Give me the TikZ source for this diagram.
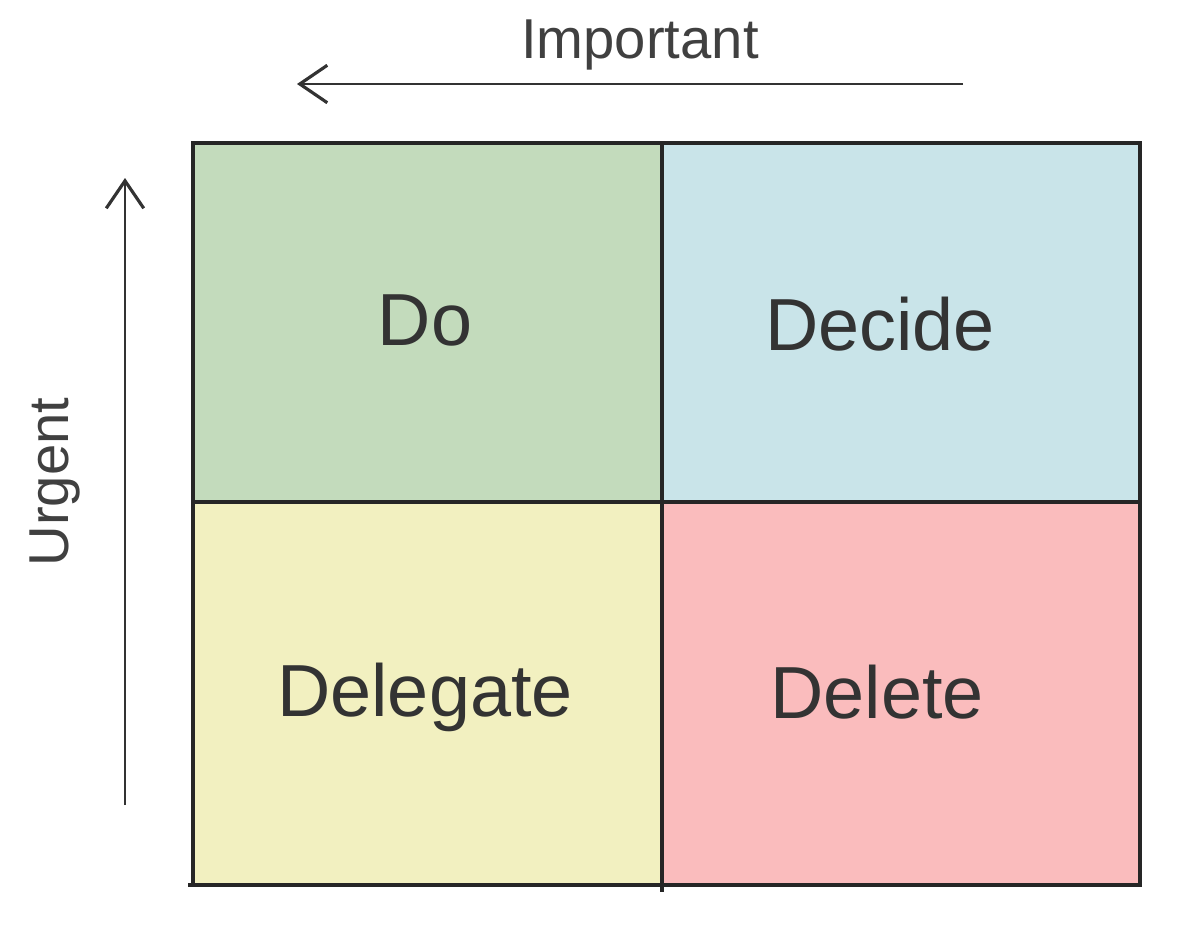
\documentclass[tikz,border=0pt]{standalone}
\usepackage{fontspec}
\setmainfont{Liberation Sans}
\usetikzlibrary{arrows.meta}
\definecolor{doGreen}{HTML}{C3DBBC}
\definecolor{decideBlue}{HTML}{C9E4E9}
\definecolor{delegateYellow}{HTML}{F2F0C0}
\definecolor{deletePink}{HTML}{FABCBD}
\tikzset{
	cell/.style={anchor=base, text=black!80, font=\fontsize{42}{50}\selectfont},
	axislbl/.style={text=black!75, font=\fontsize{32}{38}\selectfont},
	axisarrow/.style={draw=black!80, line width=1.1pt, -{Straight Barb[length=5.5mm, width=7.5mm, line width=1.8pt]}},
	gridline/.style={draw=black!85, line width=2.6pt}
}
\begin{document}
\begin{tikzpicture}[x=0.02cm, y=-0.02cm]
	\useasboundingbox (0,0) rectangle (1200,934);
	% quadrants
	\fill[doGreen] (193,143) rectangle (662,502);
	\fill[decideBlue] (662,143) rectangle (1140,502);
	\fill[delegateYellow] (193,502) rectangle (662,885);
	\fill[deletePink] (662,502) rectangle (1140,885);
	\draw[gridline] (193,143) rectangle (1140,885);
	\draw[gridline] (662,143) -- (662,892);
	\draw[gridline] (193,502) -- (1140,502);
	\draw[gridline] (188,885) -- (193,885);

	\node (do) [cell] at (425, 345) {Do};
	\node (decide) [cell] at (880, 350) {Decide};
	\node (delegate) [cell] at (425, 716) {Delegate};
	\node (delete) [cell] at (877, 718) {Delete};

	\node (important) [axislbl] at (640, 45) {Important};
	\node (urgent) [axislbl, rotate=90] at (55, 482) {Urgent};
	\coordinate (impfrom) at (963, 84);
	\coordinate (impto) at (297, 84);
	\coordinate (urgfrom) at (125, 805);
	\coordinate (urgto) at (125, 178);
	\draw[axisarrow] (impfrom) -- (impto);
	\draw[axisarrow] (urgfrom) -- (urgto);
\end{tikzpicture}
\end{document}
